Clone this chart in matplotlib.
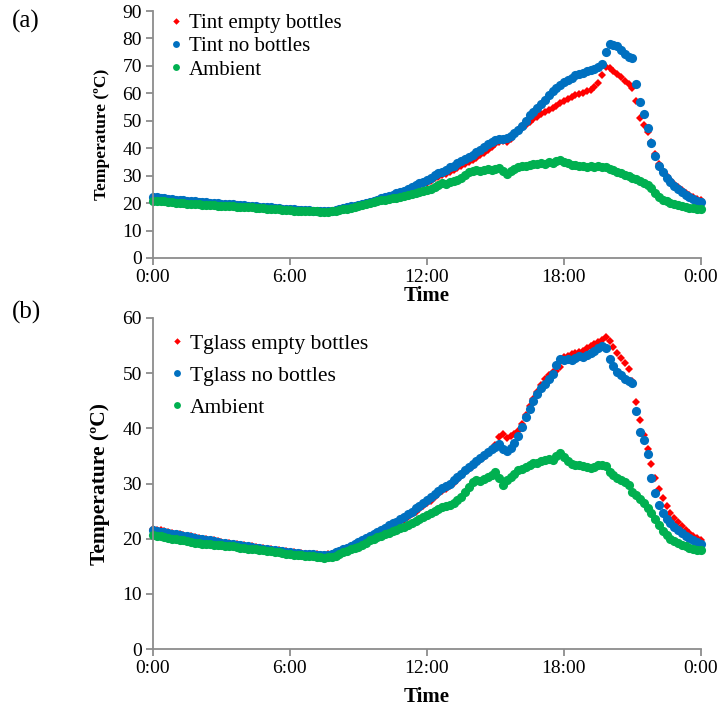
import numpy as np
import matplotlib.pyplot as plt

plt.rcParams['font.family'] = ['Liberation Serif', 'DejaVu Serif']

# measurements every 10 minutes, 0:00 -> 24:00 (145 points)
tijd = np.arange(145) / 6.0

# (a) interior temperature
tint_empty = [
    21.7, 21.6, 21.5, 21.4, 21.2, 21.1,
    21.0, 20.9, 20.8, 20.6, 20.5, 20.4,
    20.3, 20.2, 20.0, 19.9, 19.8, 19.7,
    19.6, 19.5, 19.4, 19.3, 19.2, 19.1,
    19.0, 18.9, 18.8, 18.7, 18.6, 18.5,
    18.4, 18.3, 18.2, 18.0, 17.9, 17.8,
    17.7, 17.6, 17.5, 17.4, 17.3, 17.3,
    17.2, 17.1, 17.1, 17.0, 17.1, 17.2,
    17.5, 17.8, 18.1, 18.4, 18.7, 18.9,
    19.2, 19.6, 20.0, 20.4, 20.8, 21.1,
    21.5, 21.9, 22.3, 22.7, 23.1, 23.5,
    23.8, 24.3, 24.9, 25.6, 26.2, 26.8,
    27.4, 28.2, 29.0, 29.6, 30.2, 30.7,
    31.3, 32.0, 32.8, 33.6, 34.4, 35.1,
    35.8, 36.6, 37.5, 38.4, 39.4, 40.5,
    41.5, 42.2, 42.6, 42.4, 43.3, 44.8,
    46.5, 47.5, 48.6, 49.7, 50.6, 51.5,
    52.3, 53.1, 53.9, 54.7, 55.5, 56.3,
    57.2, 58.0, 58.6, 59.3, 59.8, 60.2,
    60.7, 61.3, 62.2, 63.6, 66.8, 69.6,
    69.2, 68.3, 67.2, 66.0, 64.6, 63.3,
    62.0, 57.2, 51.0, 48.3, 45.8, 42.2,
    37.8, 34.3, 31.8, 29.8, 28.3, 27.0,
    25.8, 24.7, 23.8, 22.9, 22.1, 21.5,
    21.0]

tint_none = [
    22.2, 22.1, 21.9, 21.8, 21.6, 21.5,
    21.3, 21.2, 21.0, 20.9, 20.8, 20.6,
    20.5, 20.4, 20.3, 20.1, 20.0, 19.9,
    19.8, 19.7, 19.6, 19.5, 19.4, 19.3,
    19.2, 19.1, 19.0, 18.8, 18.7, 18.6,
    18.5, 18.4, 18.3, 18.1, 18.0, 17.9,
    17.8, 17.7, 17.6, 17.5, 17.4, 17.4,
    17.3, 17.2, 17.2, 17.1, 17.2, 17.3,
    17.6, 17.9, 18.2, 18.5, 18.8, 19.0,
    19.3, 19.7, 20.1, 20.5, 20.9, 21.3,
    21.8, 22.2, 22.6, 23.1, 23.6, 24.0,
    24.5, 25.1, 25.8, 26.5, 27.2, 27.8,
    28.5, 29.3, 30.1, 30.8, 31.5, 32.2,
    33.0, 33.7, 34.5, 35.3, 36.1, 36.8,
    37.5, 38.5, 39.5, 40.5, 41.4, 42.3,
    43.0, 43.4, 43.5, 43.6, 44.5, 45.5,
    46.5, 48.2, 50.0, 52.0, 53.3, 54.7,
    56.0, 57.6, 59.3, 61.0, 62.0, 63.0,
    64.0, 64.8, 65.7, 66.5, 67.0, 67.5,
    68.0, 68.5, 69.0, 69.6, 70.8, 75.0,
    78.0, 77.7, 77.3, 75.8, 74.3, 73.4,
    72.9, 63.5, 57.0, 52.3, 47.3, 41.8,
    37.0, 33.6, 31.2, 29.2, 27.7, 26.3,
    25.1, 24.0, 23.1, 22.3, 21.5, 20.9,
    20.5]

ambient_a = [
    20.8, 20.7, 20.6, 20.6, 20.4, 20.3,
    20.2, 20.1, 20.0, 19.8, 19.7, 19.6,
    19.5, 19.4, 19.3, 19.3, 19.2, 19.1,
    19.0, 19.0, 18.9, 18.8, 18.7, 18.7,
    18.6, 18.5, 18.4, 18.3, 18.2, 18.1,
    18.0, 17.9, 17.8, 17.7, 17.6, 17.5,
    17.4, 17.3, 17.3, 17.2, 17.1, 17.1,
    17.0, 17.0, 16.9, 16.8, 16.9, 17.0,
    17.2, 17.4, 17.7, 18.0, 18.3, 18.5,
    18.8, 19.2, 19.6, 20.0, 20.3, 20.6,
    21.0, 21.3, 21.5, 21.8, 22.0, 22.2,
    22.5, 22.9, 23.2, 23.6, 24.0, 24.3,
    24.7, 25.2, 25.7, 26.6, 27.3, 27.0,
    27.6, 28.0, 28.5, 29.2, 30.3, 31.2,
    31.8, 32.0, 31.8, 32.1, 32.3, 32.2,
    32.5, 32.8, 31.6, 30.6, 31.8, 32.6,
    33.2, 33.5, 33.6, 34.0, 34.2, 34.3,
    34.5, 34.4, 34.8, 34.7, 35.3, 35.7,
    35.1, 34.6, 34.0, 33.8, 33.5, 33.6,
    33.2, 33.4, 33.1, 33.5, 33.3, 33.2,
    32.6, 32.0, 31.3, 30.8, 30.2, 29.7,
    29.2, 28.6, 27.9, 27.2, 26.6, 25.4,
    23.8, 22.3, 21.3, 20.6, 20.0, 19.5,
    19.2, 18.9, 18.6, 18.3, 18.1, 18.0,
    17.8]

# (b) glass temperature
tglass_empty = [
    21.8, 21.6, 21.5, 21.4, 21.2, 21.1,
    20.9, 20.8, 20.7, 20.5, 20.4, 20.3,
    20.1, 20.0, 19.9, 19.8, 19.7, 19.5,
    19.4, 19.3, 19.2, 19.1, 19.0, 18.9,
    18.8, 18.7, 18.6, 18.5, 18.4, 18.3,
    18.2, 18.1, 18.0, 17.9, 17.8, 17.7,
    17.6, 17.5, 17.4, 17.4, 17.3, 17.3,
    17.2, 17.2, 17.1, 17.1, 17.2, 17.3,
    17.5, 17.8, 18.1, 18.4, 18.7, 19.0,
    19.3, 19.6, 20.0, 20.3, 20.7, 21.0,
    21.3, 21.7, 22.1, 22.4, 22.7, 23.0,
    23.4, 23.9, 24.4, 24.9, 25.4, 25.9,
    26.4, 26.9, 27.5, 28.1, 28.6, 29.0,
    29.5, 30.1, 30.7, 31.3, 32.0, 32.6,
    33.2, 33.7, 34.3, 34.8, 35.5, 36.2,
    37.0, 38.5, 38.9, 38.2, 38.6, 39.0,
    39.6, 40.8, 42.4, 44.0, 45.4, 46.6,
    47.8, 48.9, 49.6, 50.2, 50.4, 51.2,
    53.0, 53.2, 53.4, 53.7, 53.9, 54.1,
    54.5, 54.9, 55.3, 55.7, 56.0, 56.5,
    55.8, 54.8, 53.7, 52.7, 51.8, 50.8,
    48.5, 44.8, 41.5, 38.8, 36.3, 33.6,
    31.0, 29.0, 27.3, 25.9, 24.7, 23.8,
    23.0, 22.3, 21.6, 21.0, 20.5, 20.1,
    19.8]

tglass_none = [
    21.6, 21.4, 21.3, 21.2, 21.0, 20.9,
    20.8, 20.7, 20.5, 20.4, 20.3, 20.2,
    20.0, 19.9, 19.8, 19.7, 19.6, 19.4,
    19.3, 19.2, 19.1, 19.0, 18.9, 18.8,
    18.7, 18.6, 18.5, 18.4, 18.3, 18.2,
    18.1, 18.0, 17.9, 17.8, 17.7, 17.6,
    17.5, 17.4, 17.4, 17.3, 17.3, 17.2,
    17.2, 17.1, 17.1, 17.0, 17.1, 17.2,
    17.5, 17.8, 18.1, 18.4, 18.7, 19.0,
    19.4, 19.8, 20.1, 20.5, 20.9, 21.2,
    21.6, 22.0, 22.4, 22.8, 23.1, 23.5,
    23.9, 24.4, 24.9, 25.5, 26.0, 26.5,
    27.0, 27.5, 28.1, 28.6, 29.1, 29.6,
    30.0, 30.6, 31.2, 31.8, 32.4, 33.0,
    33.6, 34.1, 34.6, 35.1, 35.7, 36.2,
    36.7, 37.1, 36.2, 35.9, 36.5, 37.4,
    38.6, 40.2, 42.0, 43.5, 45.0, 46.2,
    47.3, 48.1, 49.0, 49.8, 51.5, 52.5,
    52.3, 52.6, 52.3, 52.8, 53.1, 53.0,
    53.3, 53.7, 54.0, 54.5, 55.0, 54.5,
    52.6, 51.3, 50.3, 49.6, 49.0, 48.6,
    48.2, 43.2, 39.3, 37.9, 35.3, 31.0,
    28.2, 26.1, 24.6, 23.6, 22.8, 22.2,
    21.6, 21.0, 20.5, 20.1, 19.7, 19.4,
    19.1]

ambient_b = [
    20.6, 20.5, 20.4, 20.3, 20.1, 20.0,
    19.9, 19.8, 19.7, 19.6, 19.4, 19.3,
    19.2, 19.1, 19.0, 19.0, 18.9, 18.9,
    18.8, 18.7, 18.6, 18.6, 18.5, 18.4,
    18.3, 18.2, 18.2, 18.1, 18.0, 17.9,
    17.8, 17.7, 17.6, 17.5, 17.4, 17.3,
    17.2, 17.1, 17.1, 17.0, 16.9, 16.9,
    16.8, 16.7, 16.6, 16.5, 16.6, 16.7,
    16.9, 17.2, 17.5, 17.8, 18.1, 18.3,
    18.5, 18.9, 19.3, 19.7, 20.0, 20.3,
    20.5, 20.8, 21.1, 21.4, 21.6, 21.9,
    22.2, 22.5, 22.9, 23.2, 23.6, 23.9,
    24.3, 24.7, 25.1, 25.4, 25.7, 26.0,
    26.1, 26.5, 27.0, 27.6, 28.4, 29.4,
    30.3, 30.6, 30.5, 30.8, 31.2, 31.5,
    32.0, 31.0, 29.8, 30.6, 31.2, 31.8,
    32.4, 32.7, 33.0, 33.4, 33.7, 33.8,
    34.0, 34.2, 34.5, 34.3, 34.9, 35.5,
    34.8, 34.1, 33.5, 33.4, 33.3, 33.1,
    33.0, 32.8, 33.0, 33.3, 33.4, 33.2,
    32.0, 31.5, 31.0, 30.6, 30.2, 29.8,
    28.5, 27.9, 27.2, 26.4, 25.6, 24.6,
    23.5, 22.4, 21.4, 20.6, 20.0, 19.5,
    19.2, 18.9, 18.6, 18.4, 18.2, 18.0,
    17.9]

uren = [0, 6, 12, 18, 24]
uur_labels = ["0:00", "6:00", "12:00", "18:00", "0:00"]

rood = "#ff0000"
blauw = "#0070c0"
groen = "#00b050"
grijs = "#8c8c8c"

fig = plt.figure(figsize=(7.18, 7.06), dpi=100)
ax1 = fig.add_axes([0.213, 0.6346, 0.7632, 0.3498])
ax2 = fig.add_axes([0.213, 0.0807, 0.7632, 0.4689])


def opmaak(ax, ymax, ylabel_size):
    ax.set_xlim(0, 24)
    ax.set_ylim(0, ymax)
    ax.set_xticks(uren)
    ax.set_xticklabels(uur_labels)
    ax.set_yticks(np.arange(0, ymax + 1, 10))
    for s in ["top", "right"]:
        ax.spines[s].set_visible(False)
    for s in ["left", "bottom"]:
        ax.spines[s].set_color(grijs)
        ax.spines[s].set_linewidth(1.3)
    ax.tick_params(direction="out", length=5, width=1.3, color=grijs,
                   labelsize=14, pad=3)
    ax.set_xlabel("Time", fontsize=15, fontweight="bold")
    ax.set_ylabel("Temperature (ºC)", fontsize=ylabel_size, fontweight="bold")
    ax.xaxis.set_label_coords(0.5, -0.115)
    ax.yaxis.set_label_coords(-0.078, 0.5)


def teken(ax, rood_data, blauw_data, groen_data, namen):
    ax.plot(tijd, rood_data, linestyle="none", marker="D", ms=4.4,
            mew=0, color=rood, label=namen[0], clip_on=False)
    ax.plot(tijd, blauw_data, linestyle="none", marker="o", ms=6.6,
            mew=0, color=blauw, label=namen[1], clip_on=False)
    ax.plot(tijd, groen_data, linestyle="none", marker="o", ms=6.6,
            mew=0, color=groen, label=namen[2], clip_on=False)


teken(ax1, tint_empty, tint_none, ambient_a,
      ["Tint empty bottles", "Tint no bottles", "Ambient"])
teken(ax2, tglass_empty, tglass_none, ambient_b,
      ["Tglass empty bottles", "Tglass no bottles", "Ambient"])

opmaak(ax1, 90, 12.5)
opmaak(ax2, 60, 15.5)

leg1 = ax1.legend(loc="upper left", bbox_to_anchor=(0.237, 0.981),
                  bbox_transform=fig.transFigure, frameon=False,
                  fontsize=15, borderpad=0, borderaxespad=0,
                  handlelength=0.6, handletextpad=0.3, labelspacing=0.18,
                  markerscale=0.75)
leg2 = ax2.legend(loc="upper left", bbox_to_anchor=(0.237, 0.527),
                  bbox_transform=fig.transFigure, frameon=False,
                  fontsize=15.5, borderpad=0, borderaxespad=0,
                  handlelength=0.6, handletextpad=0.3, labelspacing=0.55,
                  markerscale=0.75)

fig.text(0.017, 0.969, "(a)", fontsize=18, va="center")
fig.text(0.017, 0.558, "(b)", fontsize=18, va="center")

plt.savefig("out.png", dpi=100)
